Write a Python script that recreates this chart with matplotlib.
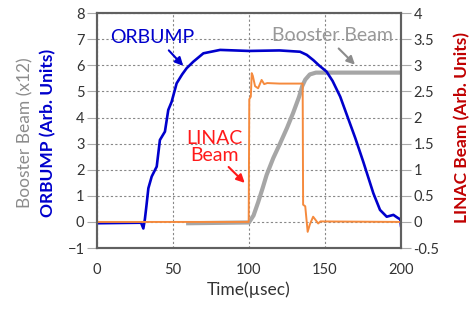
import matplotlib
matplotlib.use('Agg')
import matplotlib.pyplot as plt

plt.rcParams['font.family'] = ['Lato', 'DejaVu Sans']

# ORBUMP (left axis)
orb_t = [0, 29, 30.5, 31.5, 32.5, 33.8, 36, 39.3, 41.4, 44.7, 46.9, 49.1, 52.4, 56, 59,
         63.4, 70, 81, 100, 120, 133.6, 138, 142.3, 146, 151, 155, 160, 165, 170, 175.2,
         181.8, 186.2, 190.6, 195, 198, 199.5, 200]
orb_y = [-0.05, -0.03, -0.25, 0.1, 0.6, 1.29, 1.74, 2.12, 3.14, 3.46, 4.29, 4.6, 5.31, 5.65, 5.89,
         6.14, 6.46, 6.59, 6.55, 6.57, 6.52, 6.4, 6.2, 6.0, 5.76, 5.4, 4.8, 4.0, 3.2, 2.3,
         1.1, 0.46, 0.2, 0.27, 0.15, 0.1, -0.15]

# Booster beam x12 (left axis)
bst_t = [60, 100, 103, 106, 109, 111.6, 116, 120.4, 125, 129, 133, 135, 137, 140, 144, 200]
bst_y = [-0.05, -0.02, 0.25, 0.75, 1.3, 1.8, 2.45, 3.0, 3.6, 4.17, 4.8, 5.2, 5.45, 5.65, 5.72, 5.72]

# LINAC beam (right axis)
lin_t = [0, 99.8, 100.2, 101.2, 101.8, 102.5, 104, 106, 108.3, 110, 112, 120, 130, 135.3,
         135.6, 137, 138.6, 140, 142.2, 143.5, 145.5, 147, 200]
lin_y = [0, 0, 2.35, 2.4, 2.85, 2.8, 2.6, 2.56, 2.72, 2.64, 2.66, 2.65, 2.65, 2.65,
         0.33, 0.3, -0.19, -0.05, 0.1, 0.05, -0.03, 0.01, 0]

left_ticks = [-1, 0, 1, 2, 3, 4, 5, 6, 7, 8]
right_ticks = [-0.5, 0, 0.5, 1, 1.5, 2, 2.5, 3, 3.5, 4]
right_labels = ['-0.5', '0', '0.5', '1', '1.5', '2', '2.5', '3', '3.5', '4']
x_ticks = [0, 50, 100, 150, 200]

BLUE = '#0000CC'
GRAY = '#A6A6A6'
ORANGE = '#F58A3D'
RED = '#FF1A1A'
DARKRED = '#C00000'
TXT = '#333333'

fig = plt.figure(figsize=(4.74, 3.12), dpi=100)
ax = fig.add_axes([0.2046, 0.205, 0.6414, 0.753])
ax2 = ax.twinx()

ax.plot(bst_t, bst_y, color=GRAY, lw=3.0)
ax.plot(orb_t, orb_y, color=BLUE, lw=1.9)
ax2.plot(lin_t, lin_y, color=ORANGE, lw=1.4)

ax.set_xlim(0, 200)
ax.set_ylim(-1, 8)
ax2.set_ylim(-0.5, 4)
ax.set_xticks(x_ticks)
ax.set_yticks(left_ticks)
ax2.set_yticks(right_ticks)
ax2.set_yticklabels(right_labels)

ax.grid(True, color='#888888', linestyle=(0, (2, 2)), linewidth=0.8)
ax.set_axisbelow(True)

for a in (ax, ax2):
    for s in a.spines.values():
        s.set_color('#606060')
        s.set_linewidth(1.5)

ax.tick_params(axis='x', length=0, pad=11, labelsize=10.5, labelcolor=TXT)
ax.tick_params(axis='y', length=7, width=0.8, color='#aaaaaa', pad=2, labelsize=10.5, labelcolor=TXT)
ax2.tick_params(axis='y', length=7, width=0.8, color='#aaaaaa', pad=2, labelsize=10.5, labelcolor=TXT)

ax.set_xlabel('Time(\u00b5sec)', fontsize=12.5, color=TXT, labelpad=3)

fig.text(0.053, 0.575, 'Booster Beam (x12)', rotation=90, ha='center', va='center',
         fontsize=12.5, color='#8C8C8C')
fig.text(0.101, 0.575, 'ORBUMP (Arb. Units)', rotation=90, ha='center', va='center',
         fontsize=12.5, color=BLUE, fontweight='bold')
fig.text(0.975, 0.59, 'LINAC Beam (Arb. Units)', rotation=90, ha='center', va='center',
         fontsize=12.5, color=DARKRED, fontweight='bold')

# annotations
ax.text(36.5, 7.05, 'ORBUMP', color=BLUE, fontsize=14, ha='center', va='center')
ax.annotate('', xy=(58, 5.9), xytext=(46, 6.65),
            arrowprops=dict(arrowstyle='-|>', color=BLUE, lw=1.5, mutation_scale=12))

ax.text(155, 7.13, 'Booster Beam', color='#999999', fontsize=14, ha='center', va='center')
ax.annotate('', xy=(171, 5.95), xytext=(157.7, 6.72),
            arrowprops=dict(arrowstyle='-|>', color='#8C8C8C', lw=1.5, mutation_scale=12))

ax.text(77.5, 2.87, 'LINAC\nBeam', color=RED, fontsize=14, ha='center', va='center',
        linespacing=0.95)
ax.annotate('', xy=(98.5, 1.42), xytext=(85.3, 2.18),
            arrowprops=dict(arrowstyle='-|>', color=RED, lw=1.5, mutation_scale=12))

fig.savefig('out.png', dpi=100)
